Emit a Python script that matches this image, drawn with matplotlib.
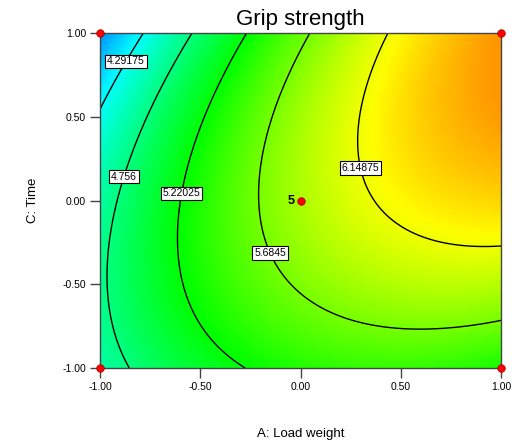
import numpy as np
import matplotlib
matplotlib.use("Agg")
import matplotlib.pyplot as plt
from matplotlib.colors import LinearSegmentedColormap, hsv_to_rgb

plt.rcParams['font.family'] = ['Liberation Sans', 'DejaVu Sans']

# Quadratic response model (coded factors), estimated from the contours in the picture
# Y = b0 + bA*A + bC*C + bAC*A*C + bAA*A^2 + bCC*C^2
b0, bA, bC, bAC, bAA, bCC = 5.8830, 0.8692, 0.1363, 0.5151, -0.3972, -0.3987
levels = [4.29175, 4.756, 5.22025, 5.6845, 6.14875]
level_labels = ["4.29175", "4.756", "5.22025", "5.6845", "6.14875"]
z_min, z_max = 3.8275, 6.613
design_A = [-1, 1, -1, 1, 0]
design_C = [-1, -1, 1, 1, 0]
center_reps = "5"
ticks = [-1.0, -0.5, 0.0, 0.5, 1.0]
tick_labels = ["-1.00", "-0.50", "0.00", "0.50", "1.00"]

a = np.linspace(-1, 1, 121)
A, C = np.meshgrid(a, a)
Z = b0 + bA*A + bC*C + bAC*A*C + bAA*A*A + bCC*C*C

fig = plt.figure(figsize=(5.19, 4.46), dpi=100)
ax = fig.add_axes([100/519, 78/446, 401/519, 335/446])
hues = np.linspace(207, 35, 64) / 360
cols = hsv_to_rgb(np.stack([hues, np.ones(64), np.ones(64)], axis=1))
cmap = LinearSegmentedColormap.from_list('de', cols)
ax.pcolormesh(A, C, Z, cmap=cmap, vmin=z_min, vmax=z_max, shading='gouraud')
cs = ax.contour(A, C, Z, levels=levels, colors='black', linewidths=1.0)
lab_pos = [(-0.885, 0.84), (-0.89, 0.146), (-0.601, 0.045), (-0.152, -0.313), (0.30, 0.194)]
fmt = dict(zip(levels, level_labels))
texts = ax.clabel(cs, levels=levels, fmt=fmt, manual=lab_pos, inline=False, fontsize=7.5)
for t in texts:
    t.set_rotation(0)
    t.set_bbox(dict(facecolor='white', edgecolor='black', pad=1.2, linewidth=0.8))

ax.scatter(design_A, design_C, s=30, color='red', edgecolor='#990000', linewidth=0.5, zorder=5, clip_on=False)
ax.text(-0.03, 0, center_reps, ha='right', va='center', fontsize=9, fontweight='bold')

ax.set_xlim(-1, 1); ax.set_ylim(-1, 1)
ax.set_xticks(ticks); ax.set_yticks(ticks)
ax.set_xticklabels(tick_labels); ax.set_yticklabels(tick_labels)
ax.tick_params(direction='out', length=7, width=1, labelsize=7.5, pad=3, color='#444444')
for s in ax.spines.values():
    s.set_color('#444444'); s.set_linewidth(1)
ax.set_title('Grip strength', fontsize=16, pad=6)
ax.set_xlabel('A: Load weight', fontsize=9.5, labelpad=26)
ax.set_ylabel('C: Time', fontsize=9.5, labelpad=17)
fig.savefig('out.png', dpi=100)
